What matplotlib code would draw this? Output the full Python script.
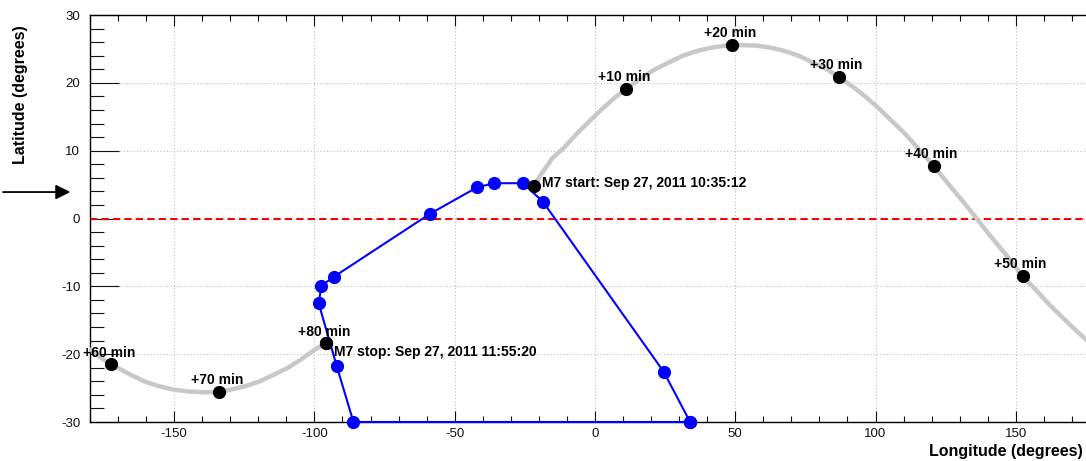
# ground track of the spacecraft during the M7 flare with the SAA boundary
import numpy as np
import matplotlib
matplotlib.use('Agg')
import matplotlib.pyplot as plt

plt.rcParams['font.family'] = ['Liberation Sans', 'DejaVu Sans']
plt.rcParams['axes.unicode_minus'] = False

# orbit track, part before the date line (from M7 start)
track_east_lon = [-21.7, -19.4, -15.2, -10.9, -6.5, -2.1, 2.4, 7.0, 11.0, 16.5, 21.4, 26.3,
                  31.3, 36.4, 41.6, 46.8, 48.9, 57.2, 62.4, 67.5, 72.6, 77.7, 82.6, 86.8,
                  92.3, 96.9, 101.5, 106.0, 110.5, 114.8, 119.1, 120.7, 123.4, 127.5, 131.8,
                  136.0, 140.2, 144.4, 148.6, 152.4, 157.1, 161.5, 165.9, 170.4, 174.9, 180.0]
track_east_lat = [4.85, 6.4, 8.9, 10.5, 12.5, 14.3, 16.1, 17.8, 19.1, 20.7, 22.0, 23.0,
                  24.0, 24.7, 25.2, 25.5, 25.6, 25.5, 25.2, 24.7, 24.0, 23.0, 22.0, 20.9,
                  19.3, 17.8, 16.1, 14.3, 12.5, 10.5, 8.5, 7.7, 6.4, 4.3, 2.2,
                  0.0, -2.2, -4.3, -6.4, -8.5, -10.5, -12.5, -14.3, -16.1, -17.8, -19.3]
# part after the date line (up to M7 stop)
track_west_lon = [-180.0, -175.5, -172.4, -165.7, -160.7, -155.6, -150.5, -145.2, -140.0,
                  -134.0, -129.6, -124.5, -119.4, -114.4, -109.4, -104.5, -99.8, -95.9]
track_west_lat = [-19.3, -20.7, -21.5, -23.0, -24.0, -24.7, -25.2, -25.5, -25.6,
                  -25.6, -25.2, -24.7, -24.0, -23.0, -22.0, -20.7, -19.3, -18.4]

# 10 minute marks
mark_labels = ['+10 min', '+20 min', '+30 min', '+40 min', '+50 min', '+60 min', '+70 min', '+80 min']
mark_lon = [11.0, 48.9, 86.8, 120.7, 152.4, -172.4, -134.0, -95.9]
mark_lat = [19.1, 25.6, 20.9, 7.7, -8.5, -21.5, -25.6, -18.4]

start_lon, start_lat = -21.7, 4.85
stop_lon, stop_lat = -95.9, -18.4
start_text = 'M7 start: Sep 27, 2011 10:35:12'
stop_text = 'M7 stop: Sep 27, 2011 11:55:20'

# SAA polygon (closed)
saa_lon = [33.9, 24.5, -18.6, -25.7, -36.0, -42.0, -58.8, -93.1, -97.5, -98.5, -92.1, -86.1, 33.9]
saa_lat = [-30.0, -22.6, 2.5, 5.2, 5.2, 4.6, 0.7, -8.6, -9.9, -12.5, -21.7, -30.0, -30.0]

arrow_lat = 3.9

fig = plt.figure(figsize=(10.86, 4.61), dpi=100)
ax = fig.add_axes([90/1086, 39/461, 1010/1086, 407/461])
ax.set_xlim(-180, 180)
ax.set_ylim(-30, 30)

ax.set_xticks(np.arange(-150, 151, 50))
ax.set_xticks(np.arange(-180, 181, 10), minor=True)
ax.set_yticks(np.arange(-30, 31, 10))
ax.set_yticks(np.arange(-30, 31, 2), minor=True)
ax.grid(True, which='major', color='#bdbdbd', linestyle=(0, (1, 2)), linewidth=0.8)

ax.tick_params(which='both', direction='in', top=True, right=False, labelsize=9.5,
               colors='#111111', width=0.8)
ax.tick_params(axis='x', which='major', length=8, pad=4)
ax.tick_params(axis='x', which='minor', length=4)
ax.tick_params(axis='y', which='major', length=21, pad=7)
ax.tick_params(axis='y', which='minor', length=10)
for s in ['left', 'top', 'bottom']:
    ax.spines[s].set_linewidth(1.0)
ax.spines['right'].set_visible(False)

ax.axhline(0, color='red', linestyle=(0, (3.5, 2)), linewidth=1.5, zorder=2)

ax.plot(track_east_lon, track_east_lat, color='#c8c8c8', linewidth=3.2, zorder=3,
        solid_capstyle='round', clip_on=False)
ax.plot(track_west_lon, track_west_lat, color='#c8c8c8', linewidth=3.2, zorder=3,
        solid_capstyle='round')

ax.plot(saa_lon, saa_lat, color='#0000ff', linewidth=1.5, marker='o', markersize=8.5,
        zorder=4, clip_on=False)

ax.plot(mark_lon, mark_lat, 'o', color='black', markersize=8.5, zorder=5)
ax.plot([start_lon, stop_lon], [start_lat, stop_lat], 'o', color='black', markersize=8.5, zorder=5)

for lab, x, y in zip(mark_labels, mark_lon, mark_lat):
    ax.annotate(lab, (x, y), xytext=(-1.5, 8.5), textcoords='offset points',
                ha='center', va='center', fontsize=10, fontweight='bold', zorder=6)
ax.annotate(start_text, (start_lon, start_lat), xytext=(6, 1.9), textcoords='offset points',
            ha='left', va='center', fontsize=10, fontweight='bold', zorder=6)
ax.annotate(stop_text, (stop_lon, stop_lat), xytext=(6, -6), textcoords='offset points',
            ha='left', va='center', fontsize=10, fontweight='bold', zorder=6)

# arrow on the left, outside the frame
ax.annotate('', xy=(-186, arrow_lat), xytext=(-212, arrow_lat), xycoords='data',
            annotation_clip=False,
            arrowprops=dict(arrowstyle='-|>', color='black', lw=1.3, mutation_scale=22))

ax.set_xlabel('Longitude (degrees)', fontsize=11.5, fontweight='bold', ha='right', va='center')
ax.xaxis.set_label_coords(0.983, -0.0737)
ax.set_ylabel('Latitude (degrees)', fontsize=11.5, fontweight='bold', ha='right', va='center')
ax.yaxis.set_label_coords(-0.069, 0.975)

fig.savefig('out.png', dpi=100)
